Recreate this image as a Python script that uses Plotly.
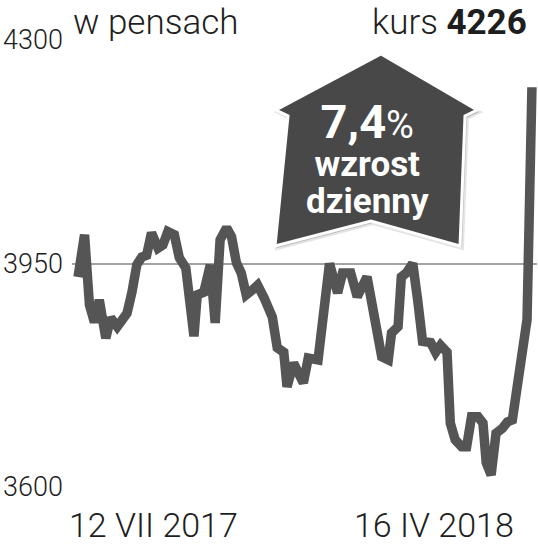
import pandas as pd
import plotly.graph_objects as go

# ---- data ----
start_date = "2017-07-12"
end_label = "16 IV 2018"
start_label = "12 VII 2017"
day_offsets = [0, 4, 6, 7, 10, 13, 17, 20, 24, 27, 30, 33, 36, 39, 42, 45, 49, 52, 55, 59,
               62, 66, 69, 71, 73, 77, 81, 84, 87, 91, 94, 97, 100, 103, 107, 110, 114, 119,
               122, 126, 128, 132, 138, 141, 147, 150, 154, 159, 162, 167, 171, 177, 182,
               186, 190, 192, 196, 198, 201, 205, 208, 211, 216, 219, 222, 226, 228, 231,
               235, 238, 241, 245, 248, 250, 253, 256, 260, 263, 266, 269, 272, 275, 278]
prices = [3929, 3995, 3921, 3885, 3858, 3893, 3833, 3865, 3851, 3865, 3872, 3905, 3948, 3960,
          3963, 3998, 3974, 3979, 4000, 3995, 3959, 3943, 3890, 3836, 3901, 3905, 3948, 3857,
          3987, 4006, 3992, 3951, 3935, 3901, 3909, 3916, 3896, 3866, 3818, 3811, 3757, 3794,
          3763, 3802, 3799, 3866, 3950, 3904, 3935, 3935, 3898, 3929, 3866, 3804, 3799, 3841,
          3851, 3929, 3935, 3950, 3893, 3828, 3826, 3811, 3822, 3811, 3700, 3674, 3663, 3663,
          3710, 3710, 3700, 3638, 3619, 3684, 3692, 3702, 3705, 3757, 3810, 3862, 4226]
y_ticks = [3600, 3950, 4300]
y_tick_labels = ["3600", "3950", "4300"]
unit_text = "w pensach"
last_price = "4226"
change_text = "7,4"
badge_lines = ["wzrost", "dzienny"]

base = pd.Timestamp(start_date)
dates = [base + pd.Timedelta(days=d) for d in day_offsets]

W, H = 538, 555
L, R, T, B = 72, 537, 40, 487


def px(x):
    return (x - L) / (R - L)


def py(y):
    return (B - y) / (B - T)


fig = go.Figure()
fig.add_trace(go.Scatter(
    x=dates, y=prices, mode="lines",
    line=dict(color="#555555", width=9.5, shape="linear"),
    hoverinfo="skip", showlegend=False,
))

light = dict(family="Roboto", color="#1e1e1e", weight=300)

# house-shaped badge
house = [(381, 54), (477, 110), (465, 116), (460, 246), (371, 221), (275, 246), (288, 116), (276, 110)]


def path(pts, dx=0, dy=0):
    return "M " + " L ".join(f"{px(x + dx):.5f},{py(y + dy):.5f}" for x, y in pts) + " Z"


shapes = [
    dict(type="path", xref="paper", yref="paper", path=path(house, 2, 2),
         fillcolor="rgba(0,0,0,0.18)", line=dict(color="rgba(0,0,0,0.10)", width=4), layer="above"),
    dict(type="path", xref="paper", yref="paper", path=path(house),
         fillcolor="#484848", line=dict(color="white", width=3), layer="above"),
]

badge_text = (f"<span style='font-size:47px'><b>{change_text}</b></span>"
              f"<span style='font-size:38px'>%</span><br>"
              f"<span style='font-size:35px'><b>{badge_lines[0]}</b></span><br>"
              f"<span style='font-size:35px'><b>{badge_lines[1]}</b></span>")

annotations = [
    dict(xref="paper", yref="paper", x=px(71), y=py(0), xanchor="left", yanchor="top",
         text=unit_text, showarrow=False, font=dict(size=35, **light)),
    dict(xref="paper", yref="paper", x=px(529), y=py(0), xanchor="right", yanchor="top",
         text=f"kurs <span style='font-weight:700'>{last_price}</span>", showarrow=False,
         font=dict(size=35, **light)),
    dict(xref="paper", yref="paper", x=px(67), y=py(525), xanchor="left", yanchor="middle",
         text=start_label, showarrow=False, font=dict(size=34, **light)),
    dict(xref="paper", yref="paper", x=px(516), y=py(525), xanchor="right", yanchor="middle",
         text=end_label, showarrow=False, font=dict(size=34, **light)),
    dict(xref="paper", yref="paper", x=px(367), y=py(158), xanchor="center", yanchor="middle",
         text=badge_text, showarrow=False, align="center",
         font=dict(size=29, family="Roboto", color="white")),
]

fig.update_layout(
    width=W, height=H,
    margin=dict(l=L, r=W - R, t=T, b=H - B, pad=0),
    paper_bgcolor="white", plot_bgcolor="white",
    xaxis=dict(range=[base + pd.Timedelta(days=-3.7), base + pd.Timedelta(days=281.1)],
               showgrid=False, showticklabels=False, zeroline=False, showline=False, ticks=""),
    yaxis=dict(range=[3600, 4300], tickvals=y_ticks, ticktext=y_tick_labels,
               showgrid=True, gridcolor="#a3a3a3", gridwidth=1.6, zeroline=False,
               showline=False, ticks="", ticklabelstandoff=8,
               tickfont=dict(size=27, family="Roboto", color="#1e1e1e", weight=300)),
    shapes=shapes, annotations=annotations,
)

fig.write_html("out.html", config={"displayModeBar": False},
               post_script="document.body.style.margin='0';document.body.style.overflow='hidden';")
